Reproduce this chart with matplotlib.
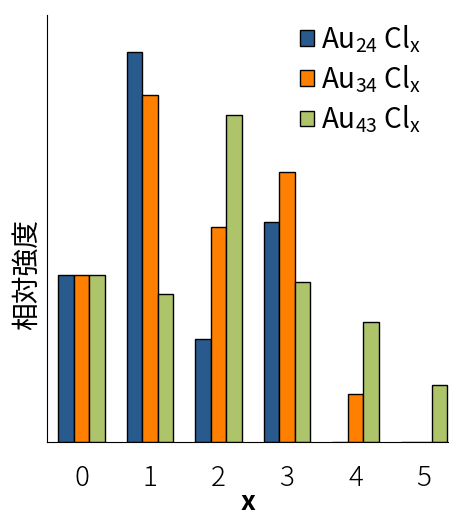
import matplotlib
matplotlib.use("Agg")
import matplotlib.pyplot as plt
import numpy as np

# ── Data ──────────────────────────────────────
x_labels = ["0", "1", "2", "3", "4", "5"]
au24 = [1.00, 2.34, 0.62, 1.32, 0.00, 0.00]
au34 = [1.00, 2.08, 1.29, 1.62, 0.29, 0.00]
au43 = [1.00, 0.89, 1.96, 0.96, 0.72, 0.34]
series_labels = [r"Au$_{24}$ Cl$_x$", r"Au$_{34}$ Cl$_x$", r"Au$_{43}$ Cl$_x$"]
colors = ["#285A8E", "#FF7F00", "#ADC46B"]

plt.rcParams["font.family"] = ["Noto Sans CJK JP", "DejaVu Sans"]
plt.rcParams["mathtext.fontset"] = "custom"
plt.rcParams["mathtext.rm"] = "Noto Sans CJK JP"
plt.rcParams["mathtext.it"] = "Noto Sans CJK JP"

fig = plt.figure(figsize=(4.49, 5.16), dpi=100)
ax = fig.add_axes([0.1047, 0.1434, 0.8953, 0.8275])

x = np.arange(len(x_labels))
width = 0.226
for i, (vals, lab, col) in enumerate(zip([au24, au34, au43], series_labels, colors)):
    ax.bar(x + (i - 1) * width, vals, width, color=col, edgecolor="black",
           linewidth=1.0, label=lab)

ax.set_xlim(-0.504, 5.365)
ax.set_ylim(0, 2.56)
ax.set_yticks([])
ax.set_xticks(x)
ax.set_xticklabels(x_labels, fontsize=20, fontweight="light")
ax.tick_params(axis="x", length=0, pad=16)
ax.spines["top"].set_visible(False)
ax.spines["right"].set_visible(False)
ax.set_xlabel("x", fontsize=19, fontweight="bold", labelpad=-2)
ax.set_ylabel("相対強度", fontsize=20)
ax.yaxis.set_label_coords(-0.014, 0.393)

ax.legend(loc="upper left", bbox_to_anchor=(0.668, 0.955),
          bbox_transform=fig.transFigure, frameon=False,
          fontsize=20, handlelength=0.5, handleheight=0.5,
          handletextpad=0.25, labelspacing=0.3, borderpad=0, borderaxespad=0)

fig.savefig("out.png", dpi=100)
